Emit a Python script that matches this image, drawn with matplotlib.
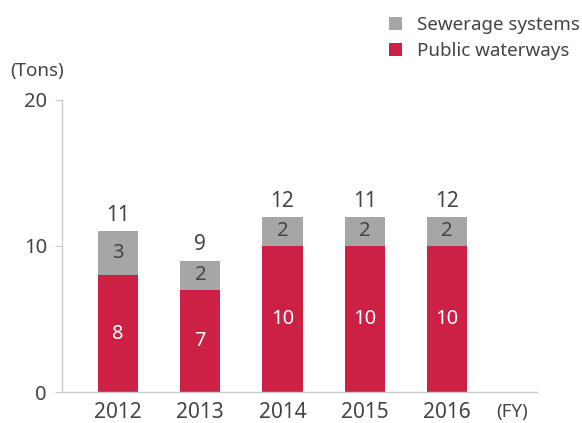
import matplotlib.pyplot as plt

plt.rcParams['font.family'] = ['Noto Sans', 'DejaVu Sans']

years = ['2012', '2013', '2014', '2015', '2016']
public = [8, 7, 10, 10, 10]
sewer = [3, 2, 2, 2, 2]
totals = [11, 9, 12, 11, 12]

red = '#CC2145'
grey = '#A6A6A6'
txt = '#444444'

fig = plt.figure(figsize=(5.82, 4.23), dpi=100)
ax = fig.add_axes([0.107, 0.073, 0.816, 0.691])

x = range(len(years))
ax.bar(x, public, width=0.49, color=red, label='Public waterways')
ax.bar(x, sewer, width=0.49, bottom=public, color=grey, label='Sewerage systems')

for i in x:
    ax.text(i, public[i] / 2, str(public[i]), ha='center', va='center', color='white', fontsize=14.5)
    ax.text(i, public[i] + sewer[i] / 2, str(sewer[i]), ha='center', va='center', color=txt, fontsize=14.5)
    ax.text(i, public[i] + sewer[i] + 0.35, str(totals[i]), ha='center', va='bottom', color=txt, fontsize=15)

ax.set_xlim(-0.68, 5.1)
ax.set_ylim(0, 20)
ax.set_yticks([0, 10, 20])
ax.set_xticks(list(x))
ax.set_xticklabels(years)

for s in ['top', 'right']:
    ax.spines[s].set_visible(False)
for s in ['left', 'bottom']:
    ax.spines[s].set_color('#CCCCCC')
    ax.spines[s].set_linewidth(1)
ax.tick_params(axis='y', colors='#CCCCCC', labelcolor=txt, labelsize=14.5, length=5, pad=6)
ax.tick_params(axis='x', length=0, labelcolor=txt, labelsize=15, pad=7)

fig.text(0.017, 0.81, '(Tons)', color=txt, fontsize=13.5, ha='left', va='bottom')
fig.text(0.853, 0.027, '(FY)', color=txt, fontsize=13.5, ha='left', va='center')

handles, labels = ax.get_legend_handles_labels()
leg = fig.legend(handles[::-1], labels[::-1], loc='upper left', bbox_to_anchor=(0.64, 1.002),
                 frameon=False, fontsize=13.5, handlelength=0.7, handleheight=0.7,
                 handletextpad=0.8, labelspacing=0.45)
for t in leg.get_texts():
    t.set_color(txt)

fig.savefig('out.png', dpi=100)
